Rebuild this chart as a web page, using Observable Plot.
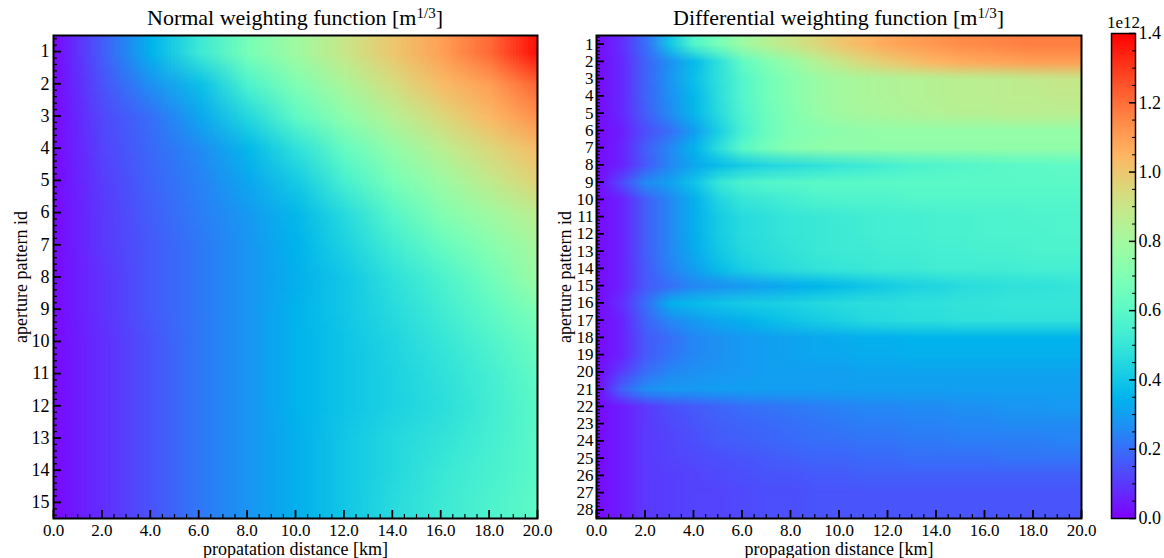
<!DOCTYPE html>
<html><head><meta charset="utf-8">
<script src="https://cdn.jsdelivr.net/npm/d3@7"></script>
<script src="https://cdn.jsdelivr.net/npm/@observablehq/plot@0.6"></script>
<style>
body{margin:0;background:#fff;}
#wrap{position:relative;width:1164px;height:558px;font-family:"Liberation Serif","Times New Roman",serif;color:#000;}
#wrap svg{position:absolute;top:0;overflow:visible;background:transparent;font-size:17px;}
#wrap svg, #wrap svg text{font-family:"Liberation Serif","Times New Roman",serif !important;}
.title{position:absolute;top:7px;font-size:22px;line-height:22px;text-align:center;white-space:nowrap;}
.title sup{font-size:15px;vertical-align:7px;line-height:0;}
</style></head><body><div id="wrap">
<div class="title" style="left:53px;width:484px;">Normal weighting function [m<sup>1/3</sup>]</div>
<div class="title" style="left:596px;width:485px;">Differential weighting function [m<sup>1/3</sup>]</div>
</div>
<script>
// ---- data (values in units of 1e12) ----
const distanceNormal = [0, 2, 4, 6, 8, 10, 12, 14, 16, 18, 20];
const apertureNormal = [1, 2, 3, 4, 5, 6, 7, 8, 9, 10, 11, 12, 13, 14, 15];
const normalWeighting = [
  [0.02, 0.17, 0.35, 0.52, 0.68, 0.79, 0.90, 1.00, 1.10, 1.21, 1.38],
  [0.02, 0.15, 0.27, 0.38, 0.56, 0.70, 0.82, 0.93, 1.03, 1.10, 1.22],
  [0.02, 0.13, 0.20, 0.32, 0.45, 0.61, 0.74, 0.85, 0.95, 1.04, 1.13],
  [0.02, 0.12, 0.19, 0.26, 0.36, 0.48, 0.63, 0.75, 0.86, 0.95, 1.03],
  [0.02, 0.11, 0.18, 0.24, 0.32, 0.41, 0.55, 0.68, 0.78, 0.88, 0.97],
  [0.02, 0.10, 0.17, 0.23, 0.29, 0.36, 0.46, 0.59, 0.71, 0.79, 0.87],
  [0.02, 0.10, 0.16, 0.22, 0.28, 0.35, 0.43, 0.53, 0.63, 0.72, 0.81],
  [0.02, 0.09, 0.16, 0.22, 0.28, 0.34, 0.40, 0.48, 0.56, 0.66, 0.78],
  [0.02, 0.09, 0.16, 0.22, 0.28, 0.35, 0.40, 0.46, 0.53, 0.61, 0.70],
  [0.02, 0.08, 0.15, 0.22, 0.28, 0.35, 0.39, 0.44, 0.50, 0.57, 0.65],
  [0.02, 0.08, 0.15, 0.22, 0.28, 0.35, 0.39, 0.43, 0.48, 0.54, 0.62],
  [0.02, 0.08, 0.15, 0.22, 0.28, 0.35, 0.39, 0.43, 0.47, 0.53, 0.60],
  [0.02, 0.08, 0.15, 0.22, 0.28, 0.34, 0.40, 0.45, 0.49, 0.54, 0.60],
  [0.02, 0.08, 0.15, 0.22, 0.28, 0.34, 0.40, 0.45, 0.51, 0.55, 0.60],
  [0.02, 0.08, 0.15, 0.22, 0.28, 0.34, 0.40, 0.46, 0.52, 0.56, 0.61]
];
const distanceDiff = [0, 1, 2, 3, 4, 5, 6, 7, 8, 9, 10, 11, 12, 13, 14, 15, 16, 17, 18, 19, 20];
const apertureDiff = [1, 2, 3, 4, 5, 6, 7, 8, 9, 10, 11, 12, 13, 14, 15, 16, 17, 18, 19, 20, 21, 22, 23, 24, 25, 26, 27, 28];
const diffWeighting = [
  [0.02,0.08,0.20,0.40,0.58,0.68,0.78,0.85,0.90,0.95,1.00,1.04,1.08,1.10,1.12,1.14,1.15,1.16,1.17,1.17,1.17],
  [0.02,0.07,0.18,0.27,0.37,0.48,0.62,0.70,0.77,0.84,0.90,0.95,0.99,1.02,1.05,1.07,1.08,1.09,1.10,1.10,1.10],
  [0.02,0.07,0.18,0.28,0.38,0.48,0.58,0.66,0.72,0.77,0.80,0.82,0.83,0.84,0.85,0.86,0.86,0.87,0.88,0.89,0.89],
  [0.02,0.07,0.18,0.27,0.36,0.47,0.58,0.66,0.72,0.77,0.80,0.82,0.83,0.84,0.85,0.86,0.86,0.87,0.87,0.88,0.88],
  [0.02,0.07,0.17,0.26,0.36,0.46,0.57,0.65,0.71,0.76,0.79,0.81,0.82,0.83,0.84,0.85,0.85,0.86,0.86,0.86,0.86],
  [0.02,0.05,0.14,0.20,0.30,0.42,0.55,0.64,0.70,0.72,0.74,0.75,0.76,0.76,0.76,0.76,0.76,0.76,0.76,0.76,0.76],
  [0.02,0.06,0.17,0.25,0.35,0.47,0.60,0.67,0.72,0.74,0.75,0.75,0.75,0.75,0.75,0.75,0.75,0.75,0.75,0.75,0.75],
  [0.02,0.06,0.16,0.25,0.32,0.37,0.41,0.44,0.46,0.48,0.50,0.52,0.54,0.56,0.57,0.58,0.59,0.60,0.60,0.61,0.61],
  [0.02,0.13,0.26,0.31,0.39,0.50,0.56,0.58,0.59,0.60,0.60,0.60,0.60,0.60,0.60,0.60,0.60,0.60,0.60,0.60,0.60],
  [0.02,0.06,0.17,0.25,0.34,0.44,0.50,0.52,0.54,0.56,0.57,0.57,0.57,0.58,0.58,0.58,0.58,0.58,0.58,0.58,0.58],
  [0.02,0.06,0.17,0.25,0.34,0.41,0.46,0.48,0.50,0.51,0.52,0.53,0.54,0.54,0.55,0.55,0.56,0.56,0.57,0.57,0.57],
  [0.02,0.06,0.17,0.25,0.34,0.41,0.46,0.48,0.50,0.51,0.52,0.53,0.54,0.54,0.55,0.55,0.56,0.56,0.56,0.57,0.57],
  [0.02,0.06,0.17,0.25,0.33,0.40,0.45,0.47,0.49,0.51,0.52,0.52,0.53,0.53,0.54,0.54,0.55,0.55,0.56,0.56,0.56],
  [0.02,0.06,0.16,0.24,0.30,0.37,0.42,0.45,0.47,0.49,0.50,0.51,0.52,0.52,0.53,0.53,0.53,0.53,0.54,0.54,0.54],
  [0.02,0.06,0.16,0.20,0.25,0.27,0.29,0.31,0.33,0.35,0.37,0.39,0.41,0.43,0.44,0.46,0.47,0.48,0.48,0.49,0.50],
  [0.02,0.08,0.20,0.34,0.37,0.39,0.41,0.42,0.43,0.45,0.46,0.47,0.47,0.48,0.48,0.49,0.49,0.50,0.50,0.50,0.50],
  [0.02,0.06,0.18,0.25,0.29,0.32,0.34,0.37,0.39,0.41,0.43,0.45,0.46,0.47,0.47,0.48,0.48,0.48,0.48,0.48,0.48],
  [0.02,0.06,0.16,0.20,0.25,0.27,0.29,0.30,0.31,0.32,0.33,0.34,0.34,0.35,0.35,0.35,0.35,0.35,0.35,0.35,0.35],
  [0.02,0.06,0.16,0.21,0.25,0.27,0.29,0.30,0.31,0.32,0.32,0.33,0.33,0.34,0.34,0.34,0.34,0.34,0.34,0.34,0.34],
  [0.02,0.11,0.20,0.25,0.27,0.28,0.29,0.30,0.30,0.30,0.30,0.31,0.31,0.31,0.31,0.31,0.31,0.31,0.31,0.31,0.31],
  [0.02,0.18,0.27,0.29,0.29,0.30,0.30,0.30,0.30,0.30,0.30,0.30,0.30,0.30,0.30,0.30,0.30,0.30,0.30,0.30,0.30],
  [0.02,0.05,0.10,0.14,0.16,0.18,0.20,0.21,0.22,0.23,0.24,0.25,0.25,0.26,0.26,0.27,0.27,0.28,0.28,0.29,0.29],
  [0.02,0.05,0.10,0.13,0.15,0.17,0.18,0.19,0.20,0.21,0.22,0.23,0.23,0.24,0.24,0.25,0.25,0.26,0.26,0.26,0.26],
  [0.02,0.05,0.10,0.12,0.14,0.16,0.17,0.18,0.19,0.20,0.20,0.21,0.21,0.22,0.22,0.23,0.23,0.23,0.23,0.24,0.24],
  [0.02,0.05,0.10,0.12,0.13,0.14,0.15,0.16,0.17,0.18,0.18,0.19,0.19,0.20,0.20,0.20,0.20,0.21,0.21,0.21,0.21],
  [0.02,0.05,0.10,0.11,0.12,0.13,0.14,0.15,0.15,0.16,0.16,0.17,0.17,0.17,0.17,0.17,0.17,0.17,0.17,0.17,0.17],
  [0.02,0.05,0.10,0.11,0.12,0.12,0.13,0.14,0.14,0.15,0.15,0.15,0.15,0.15,0.15,0.15,0.15,0.15,0.15,0.15,0.15],
  [0.02,0.05,0.10,0.11,0.12,0.12,0.13,0.14,0.14,0.15,0.15,0.15,0.15,0.15,0.15,0.15,0.15,0.15,0.15,0.15,0.15]
];
const distanceTicks = [0, 2, 4, 6, 8, 10, 12, 14, 16, 18, 20];
const colorTicks = [0, 0.2, 0.4, 0.6, 0.8, 1.0, 1.2, 1.4];
const colorDomain = [0, 1.4];

// matplotlib "rainbow" colormap
const rainbow = t => {
  const r = Math.min(1, Math.abs(2 * t - 0.5));
  const g = Math.sin(Math.PI * t);
  const b = Math.max(0, Math.cos(Math.PI * t / 2));
  return `rgb(${Math.round(r * 255)},${Math.round(g * 255)},${Math.round(b * 255)})`;
};
const colorScale = {type: "linear", domain: colorDomain, interpolate: rainbow, clamp: true};

function panel({xs, ids, values, left, width, marginLeft, marginRight, xLabel, yDx, yPad, yFont}) {
  const height = 558, marginTop = 35, marginBottom = 40;
  const W = width - marginLeft - marginRight, H = height - marginTop - marginBottom;
  const n = ids.length, m = xs.length;
  const step = xs[1] - xs[0];
  const flat = values.flat();
  const xMinor = d3.range(0.5, 20, 0.5).filter(v => v % 2 !== 0);
  const yMinor = d3.range(0.6, n + 0.5, 0.2).filter(v => Math.abs(v - Math.round(v)) > 0.05);
  const svg = Plot.plot({
    width, height, marginLeft, marginRight, marginTop, marginBottom,
    x: {domain: [0, 20]},
    y: {domain: [0.5, n + 0.5], reverse: true},
    color: colorScale,
    marks: [
      // grid of samples: pixel centres sit on the distances / aperture ids, smoothed bilinearly
      Plot.raster(flat, {width: m, height: n, fill: d => d, imageRendering: "auto", clip: true,
        x1: xs[0] - step / 2, x2: xs[m - 1] + step / 2, y1: 0.5, y2: n + 0.5}),
      Plot.tickX(xMinor, {x: d => d, insetTop: H - 4, strokeWidth: 1.2, stroke: "#000"}),
      Plot.tickX(distanceTicks, {x: d => d, insetTop: H - 8, strokeWidth: 1.8, stroke: "#000"}),
      Plot.tickY(yMinor, {y: d => d, insetRight: W - 4, strokeWidth: 1.2, stroke: "#000"}),
      Plot.tickY(ids, {y: d => d, insetRight: W - 8, strokeWidth: 1.8, stroke: "#000"}),
      Plot.frame({strokeWidth: 2, stroke: "#000"}),
      Plot.axisX({ticks: distanceTicks, tickSize: 0, tickPadding: 5, tickFormat: d3.format(".1f"), label: null, fontSize: 17}),
      Plot.axisY({ticks: ids, tickSize: 0, tickPadding: yPad, tickFormat: d => String(d), label: null, fontSize: yFont}),
      Plot.text([xLabel], {frameAnchor: "bottom", lineAnchor: "middle", dy: 31, text: d => d, fontSize: 18, fill: "#000"}),
      Plot.text(["aperture pattern id"], {frameAnchor: "left", textAnchor: "middle", lineAnchor: "middle", dx: yDx, rotate: -90, text: d => d, fontSize: 18, fill: "#000"})
    ]
  });
  svg.style.left = left + "px";
  return svg;
}

const wrap = document.getElementById("wrap");
wrap.appendChild(panel({xs: distanceNormal, ids: apertureNormal, values: normalWeighting, left: 0, width: 556,
  marginLeft: 53, marginRight: 19, xLabel: "propatation distance [km]", yDx: -32, yPad: 4, yFont: 18}));
wrap.appendChild(panel({xs: distanceDiff, ids: apertureDiff, values: diffWeighting, left: 550, width: 550,
  marginLeft: 46, marginRight: 19, xLabel: "propagation distance [km]", yDx: -31, yPad: 3, yFont: 17}));

// colorbar
const cbMinor = d3.range(0.05, 1.4, 0.05).filter(v => Math.abs(v * 5 - Math.round(v * 5)) > 0.01);
const cb = Plot.plot({
  width: 78, height: 558, marginLeft: 25, marginRight: 29, marginTop: 33, marginBottom: 40,
  x: {domain: [0, 1], axis: null},
  y: {domain: colorDomain},
  color: colorScale,
  marks: [
    Plot.raster({fill: (x, y) => y, x1: 0, x2: 1, y1: 0, y2: 1.4}),
    Plot.tickY(cbMinor, {y: d => d, insetLeft: 21, strokeWidth: 1, stroke: "#000"}),
    Plot.tickY(colorTicks, {y: d => d, insetLeft: 18, strokeWidth: 1.5, stroke: "#000"}),
    Plot.frame({strokeWidth: 1.5, stroke: "#000"}),
    Plot.axisY({anchor: "right", ticks: colorTicks, tickSize: 0, tickPadding: 3, tickFormat: d3.format(".1f"), label: null, fontSize: 18}),
    Plot.text(["1e12"], {frameAnchor: "top", lineAnchor: "middle", dy: -11, text: d => d, fontSize: 17, fill: "#000"})
  ]
});
cb.style.left = "1086px";
wrap.appendChild(cb);
</script></body></html>
